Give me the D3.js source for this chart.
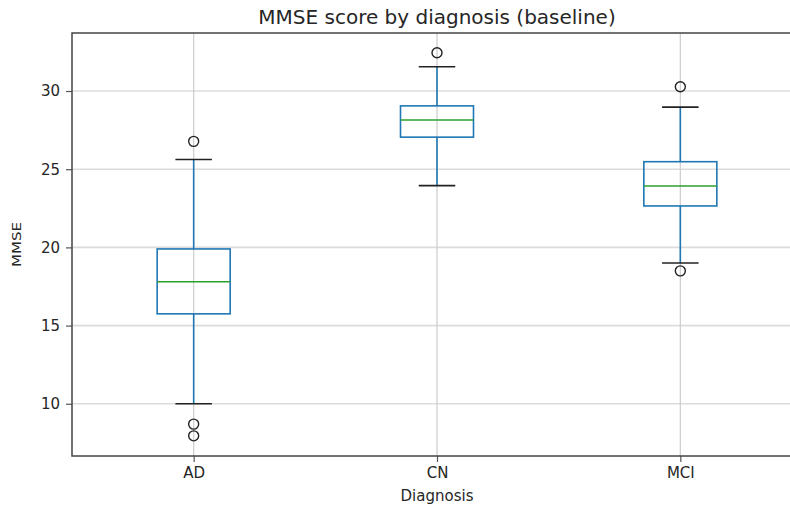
<!DOCTYPE html>
<html>
<head>
<meta charset="utf-8">
<script src="https://cdn.jsdelivr.net/npm/d3@7"></script>
<style>
  body { margin: 0; background: #fff; }
  text { font-family: "DejaVu Sans", sans-serif; fill: #262626; }
</style>
</head>
<body>
<div id="chart"></div>
<script>

// values
var categories = ["AD", "CN", "MCI"];
var whiskerLow = [10.0, 23.95, 19.0];
var q1 = [15.75, 27.05, 22.65];
var medians = [17.8, 28.15, 23.93];
var q3 = [19.9, 29.05, 25.48];
var whiskerHigh = [25.62, 31.55, 28.97];
var outliers = [[26.78, 8.7, 7.95], [32.45], [30.27, 18.5]];
var yTicks = [10, 15, 20, 25, 30];

var margin = {top: 33, right: -12, bottom: 51, left: 72};
var width = 790 - margin.left - margin.right;
var height = 507 - margin.top - margin.bottom;

var svg = d3.select("#chart")
  .append("svg")
    .attr("width", 790)
    .attr("height", 507)
  .append("g")
    .attr("transform", "translate(" + margin.left + "," + margin.top + ")");

var x = d3.scaleLinear()
  .domain([0.5, 3.5])
  .range([0, width]);

var y = d3.scaleLinear()
  .domain([6.66, 33.71])
  .range([height, 0]);

// grid
svg.append("g")
  .selectAll("line")
  .data(yTicks)
  .enter().append("line")
    .attr("x1", 0).attr("x2", width)
    .attr("y1", function(d) { return y(d) })
    .attr("y2", function(d) { return y(d) })
    .attr("stroke", "#dcdcdc")
    .attr("stroke-width", 1.6);

svg.append("g")
  .selectAll("line")
  .data(categories)
  .enter().append("line")
    .attr("x1", function(d, i) { return x(i + 1) })
    .attr("x2", function(d, i) { return x(i + 1) })
    .attr("y1", 0).attr("y2", height)
    .attr("stroke", "#d0d0d0")
    .attr("stroke-width", 1.3);

// axes
var yAxis = svg.append("g")
  .call(d3.axisLeft(y).tickValues(yTicks).tickSize(6).tickPadding(6));
yAxis.select(".domain").remove();
yAxis.selectAll(".tick line").attr("stroke", "#555").attr("stroke-width", 1.2);
yAxis.selectAll(".tick text").style("font-size", "15px").attr("fill", "#262626");

var xAxis = svg.append("g")
  .attr("transform", "translate(0," + height + ")")
  .call(d3.axisBottom(x).tickValues([1, 2, 3])
    .tickFormat(function(d) { return categories[d - 1] })
    .tickSize(6).tickPadding(5));
xAxis.select(".domain").remove();
xAxis.selectAll(".tick line").attr("stroke", "#555").attr("stroke-width", 1.2);
xAxis.selectAll(".tick text").style("font-size", "15px").attr("fill", "#262626");

// boxes
var bw = x(1.15) - x(1);   // half box width
var cw = x(1.075) - x(1);  // half cap width

var boxes = svg.append("g")
  .selectAll("g")
  .data(categories)
  .enter().append("g");

boxes.append("line")
  .attr("x1", function(d, i) { return x(i + 1) })
  .attr("x2", function(d, i) { return x(i + 1) })
  .attr("y1", function(d, i) { return y(whiskerLow[i]) })
  .attr("y2", function(d, i) { return y(q1[i]) })
  .attr("stroke", "#1f77b4").attr("stroke-width", 1.6);

boxes.append("line")
  .attr("x1", function(d, i) { return x(i + 1) })
  .attr("x2", function(d, i) { return x(i + 1) })
  .attr("y1", function(d, i) { return y(q3[i]) })
  .attr("y2", function(d, i) { return y(whiskerHigh[i]) })
  .attr("stroke", "#1f77b4").attr("stroke-width", 1.6);

boxes.append("rect")
  .attr("x", function(d, i) { return x(i + 1) - bw })
  .attr("width", 2 * bw)
  .attr("y", function(d, i) { return y(q3[i]) })
  .attr("height", function(d, i) { return y(q1[i]) - y(q3[i]) })
  .attr("fill", "none")
  .attr("stroke", "#1f77b4").attr("stroke-width", 1.6);

boxes.append("line")
  .attr("x1", function(d, i) { return x(i + 1) - bw })
  .attr("x2", function(d, i) { return x(i + 1) + bw })
  .attr("y1", function(d, i) { return y(medians[i]) })
  .attr("y2", function(d, i) { return y(medians[i]) })
  .attr("stroke", "#2ca02c").attr("stroke-width", 1.6);

[whiskerLow, whiskerHigh].forEach(function(arr) {
  boxes.append("line")
    .attr("x1", function(d, i) { return x(i + 1) - cw })
    .attr("x2", function(d, i) { return x(i + 1) + cw })
    .attr("y1", function(d, i) { return y(arr[i]) })
    .attr("y2", function(d, i) { return y(arr[i]) })
    .attr("stroke", "#222").attr("stroke-width", 1.6);
});

boxes.each(function(d, i) {
  d3.select(this).selectAll("circle")
    .data(outliers[i])
    .enter().append("circle")
      .attr("cx", x(i + 1))
      .attr("cy", function(v) { return y(v) })
      .attr("r", 5)
      .attr("fill", "none")
      .attr("stroke", "#222")
      .attr("stroke-width", 1.4);
});

// frame
svg.append("rect")
  .attr("x", 0).attr("y", 0)
  .attr("width", width).attr("height", height)
  .attr("fill", "none")
  .attr("stroke", "#444")
  .attr("stroke-width", 1.5);

// labels
svg.append("text")
  .attr("x", width / 2)
  .attr("y", -9)
  .attr("text-anchor", "middle")
  .style("font-size", "20px")
  .text("MMSE score by diagnosis (baseline)");

svg.append("text")
  .attr("x", width / 2)
  .attr("y", height + 45)
  .attr("text-anchor", "middle")
  .style("font-size", "15px")
  .text("Diagnosis");

svg.append("text")
  .attr("transform", "translate(-51," + (height / 2) + ") rotate(-90) scale(1,0.85)")
  .attr("text-anchor", "middle")
  .style("font-size", "15px")
  .text("MMSE");

</script>
</body>
</html>
